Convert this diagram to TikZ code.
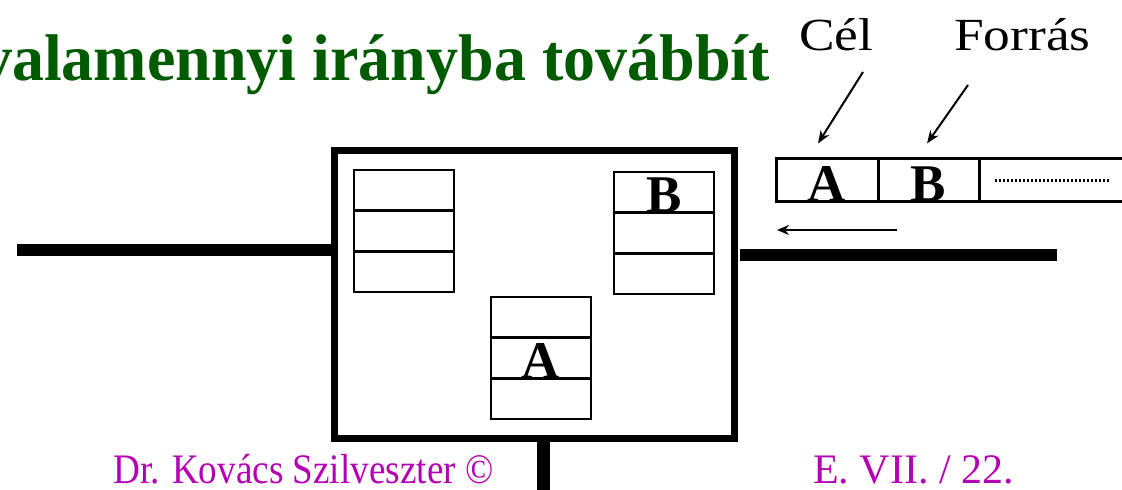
\documentclass[tikz,border=0pt]{standalone}
\usepackage{fontspec}
\setmainfont{Liberation Serif}
\usetikzlibrary{arrows.meta}
\definecolor{titlegreen}{RGB}{0,90,0}
\definecolor{footmag}{RGB}{180,0,180}
\begin{document}
\begin{tikzpicture}[x=1pt,y=-1pt,
  cell/.style={draw, line width=2.5pt, minimum width=100pt, minimum height=40.7pt, inner sep=0pt},
  pcell/.style={draw, line width=3pt, minimum height=43pt, inner sep=0pt},
  wire/.style={line width=12pt},
  bigletter/.style={font=\fontsize{53}{53}\selectfont\bfseries, inner sep=0pt, anchor=base},
  ptr/.style={line width=2pt, -{Stealth[length=13pt,width=10pt]}},
  lbl/.style={inner sep=0pt, anchor=base west, font=\fontsize{46}{46}\selectfont},
  foot/.style={inner sep=0pt, anchor=base west, text=footmag, font=\fontsize{42}{42}\selectfont},
]
\useasboundingbox (0,0) rectangle (1122,490);
\clip (0,0) rectangle (1122,490);

% title
\node[anchor=base east, inner sep=0pt, text=titlegreen, font=\fontsize{66}{66}\selectfont\bfseries] (title) at (770,80) {\scalebox{0.97}[1]{valamennyi irányba továbbít}};

% switch box
\node[draw, line width=7pt, minimum width=399.5pt, minimum height=287.5pt, inner sep=0pt] (sw) at (534.25,294.25) {};

% wires
\coordinate (lend) at (17,250);
\coordinate (rend) at (1057,255);
\coordinate (bend) at (543,495);
\draw[wire] (lend) -- (lend -| sw.west);
\draw[wire] ([xshift=2.5pt]sw.east |- rend) -- (rend);
\draw[line width=13pt] (sw.south -| bend) -- (bend);

% left stack
\node[cell] (l1) at (404,190.35) {};
\node[cell] (l2) at (404,231.05) {};
\node[cell] (l3) at (404,271.75) {};
% right stack
\node[cell] (r1) at (664,192.35) {};
\node[cell] (r2) at (664,233.05) {};
\node[cell] (r3) at (664,273.75) {};
% middle stack
\node[cell] (m1) at (541,317.35) {};
\node[cell] (m2) at (541,358.05) {};
\node[cell] (m3) at (541,398.75) {};

\node[bigletter] (rb) at ([yshift=1.5pt]r1.south) {B};
\node[bigletter] (ma) at ([yshift=1.5pt]m2.south) {A};

% packet
\node[pcell, minimum width=102pt] (p1) at (827,179.5) {};
\node[pcell, minimum width=101pt] (p2) at (928.5,179.5) {};
\node[pcell, minimum width=161pt] (p3) at (1059.5,179.5) {};
\node[bigletter] (pa) at ([yshift=1pt]p1.south) {A};
\node[bigletter] (pb) at ([yshift=1pt]p2.south) {B};
\coordinate (d1) at (995,180);
\coordinate (d2) at (1110,180);
\draw[line width=3pt, dash pattern=on 2pt off 2pt] (d1) -- (d2);

% direction arrow
\coordinate (a1) at (897,230);
\coordinate (a2) at (777,230);
\draw[line width=2pt, -{Stealth[length=12pt,width=10pt]}] (a1) -- (a2);

% labels
\node[lbl] (cel) at (799,50) {\scalebox{1.16}[1]{Cél}};
\node[lbl] (forras) at (954,50) {\scalebox{1.16}[1]{Forrás}};
\coordinate (cs) at (863,72);
\coordinate (fs) at (968,85);
\draw[ptr] (cs) -- ([xshift=-9pt,yshift=13pt]p1.north);
\draw[ptr] (fs) -- ([xshift=-1.5pt,yshift=13pt]p2.north);

% footer
\node[foot] (auth) at (113,483) {\scalebox{0.885}[1]{Dr. Kovács Szilveszter ©}};
\node[foot] (page) at (813,483) {E. VII. / 22.};
\end{tikzpicture}
\end{document}
